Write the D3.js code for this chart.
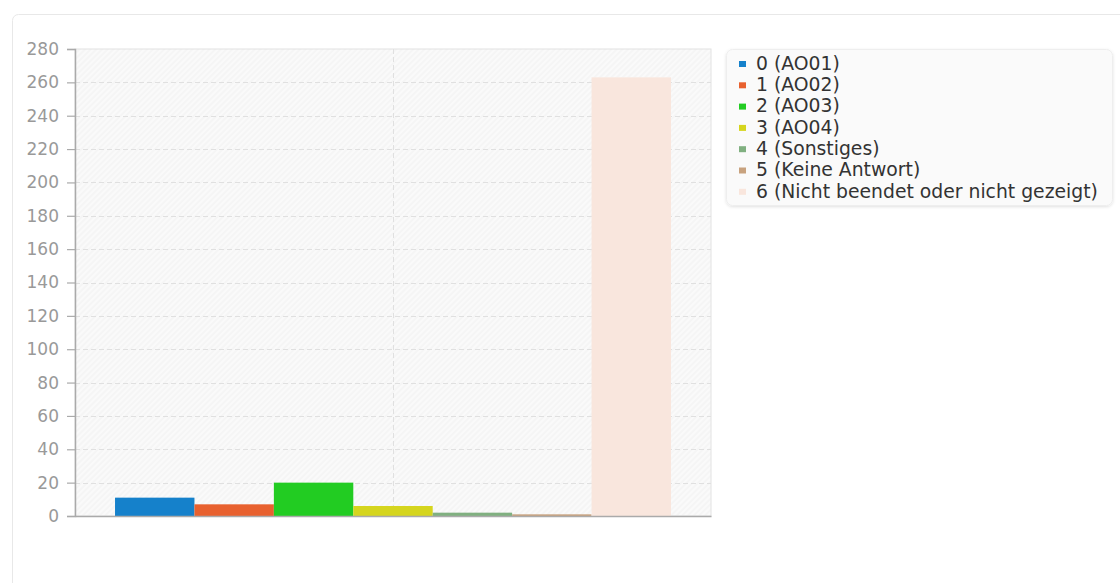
<!DOCTYPE html>
<html>
<head>
<meta charset="utf-8">
<script src="https://cdn.jsdelivr.net/npm/d3@7"></script>
<style>
  html, body { margin: 0; padding: 0; background: #ffffff; }
  svg { display: block; font-family: "DejaVu Sans", Verdana, sans-serif; }
</style>
</head>
<body>
<svg id="chart" width="1120" height="583"></svg>
<script>
// ---- data ----
const categories = ["Antworten"];
const seriesNames = [
  "0 (AO01)",
  "1 (AO02)",
  "2 (AO03)",
  "3 (AO04)",
  "4 (Sonstiges)",
  "5 (Keine Antwort)",
  "6 (Nicht beendet oder nicht gezeigt)"
];
const seriesValues = [11, 7, 20, 6, 2, 1, 263];
const seriesColors = ["#1581cb", "#e8612f", "#22cc22", "#d5d51e", "#80b080", "#c8a27e", "#f9e6dd"];
const yTicks = [0, 20, 40, 60, 80, 100, 120, 140, 160, 180, 200, 220, 240, 260, 280];

// ---- layout ----
const W = 1120, H = 583;
const plot = { left: 75, top: 49, right: 711, bottom: 516 };

const svg = d3.select("#chart");
const defs = svg.append("defs");

const pat = defs.append("pattern")
  .attr("id", "hatch")
  .attr("patternUnits", "userSpaceOnUse")
  .attr("width", 4).attr("height", 4)
  .attr("patternTransform", "rotate(45)");
pat.append("rect").attr("width", 4).attr("height", 4).attr("fill", "#f5f5f5");
pat.append("line").attr("x1", 1).attr("y1", 0).attr("x2", 1).attr("y2", 4)
  .attr("stroke", "#fcfcfc").attr("stroke-width", 1.6);

const shadow = defs.append("filter").attr("id", "shadow")
  .attr("x", "-5%").attr("y", "-10%").attr("width", "110%").attr("height", "125%");
shadow.append("feDropShadow").attr("dx", 0).attr("dy", 1).attr("stdDeviation", 1.5)
  .attr("flood-color", "#000").attr("flood-opacity", 0.12);

// card
svg.append("rect")
  .attr("x", 12.5).attr("y", 14.5)
  .attr("width", W).attr("height", H)
  .attr("rx", 6)
  .attr("fill", "#ffffff")
  .attr("stroke", "#e8e8e8");

// scales
const y = d3.scaleLinear().domain([0, 280]).range([plot.bottom, plot.top]);
const x0 = d3.scaleBand().domain(categories).range([plot.left, plot.right])
  .paddingInner(0).paddingOuter(0.072);
const x1 = d3.scaleBand().domain(seriesNames).range([0, x0.bandwidth()]).padding(0);

// plot background
svg.append("rect")
  .attr("x", plot.left).attr("y", plot.top)
  .attr("width", plot.right - plot.left).attr("height", plot.bottom - plot.top)
  .attr("fill", "url(#hatch)")
  .attr("stroke", "#e2e2e2");

// horizontal grid
svg.append("g").selectAll("line").data(yTicks.filter(d => d > 0 && d < 280)).join("line")
  .attr("x1", plot.left).attr("x2", plot.right)
  .attr("y1", d => Math.round(y(d)) + 0.5).attr("y2", d => Math.round(y(d)) + 0.5)
  .attr("stroke", "#e0e0e0").attr("stroke-dasharray", "5,3");

// vertical grid at category center
svg.append("g").selectAll("line").data(categories).join("line")
  .attr("x1", d => Math.round(x0(d) + x0.bandwidth() / 2) + 0.5)
  .attr("x2", d => Math.round(x0(d) + x0.bandwidth() / 2) + 0.5)
  .attr("y1", plot.top).attr("y2", plot.bottom)
  .attr("stroke", "#e0e0e0").attr("stroke-dasharray", "5,3");

// bars
const bars = svg.append("g");
categories.forEach(cat => {
  bars.selectAll("rect.b").data(seriesNames.map((s, i) => ({ s, v: seriesValues[i], c: seriesColors[i] })))
    .join("rect").attr("class", "b")
    .attr("x", d => x0(cat) + x1(d.s))
    .attr("width", x1.bandwidth())
    .attr("y", d => y(d.v))
    .attr("height", d => y(0) - y(d.v))
    .attr("fill", d => d.c);
});

// y axis
const yAxis = d3.axisLeft(y).tickValues(yTicks).tickSize(8).tickPadding(8);
const gy = svg.append("g").attr("transform", `translate(${plot.left},0)`).call(yAxis);
gy.select(".domain").attr("stroke", "#aaaaaa").attr("stroke-width", 1.5);
gy.selectAll(".tick line").attr("stroke", "#aaaaaa").attr("stroke-width", 1.2);
gy.selectAll(".tick text").attr("fill", "#999999").attr("font-size", 17)
  .attr("font-family", "'DejaVu Sans', sans-serif");

// x axis line
const xAxis = d3.axisBottom(x0).tickSize(0).tickFormat("");
const gx = svg.append("g").attr("transform", `translate(0,${plot.bottom})`).call(xAxis);
gx.select(".domain").attr("stroke", "#aaaaaa").attr("stroke-width", 1.5);

// legend
const lg = svg.append("g");
lg.append("rect")
  .attr("x", 726.5).attr("y", 49.5).attr("width", 386).attr("height", 156)
  .attr("rx", 6).attr("fill", "#fafafa").attr("stroke", "#eeeeee")
  .attr("filter", "url(#shadow)");
const items = lg.selectAll("g.item").data(seriesNames).join("g").attr("class", "item")
  .attr("transform", (d, i) => `translate(0,${63 + i * 21.3})`);
items.append("rect")
  .attr("x", 739).attr("y", -2).attr("width", 7).attr("height", 6)
  .attr("fill", (d, i) => seriesColors[i]);
items.append("text")
  .attr("x", 756).attr("y", 0).attr("dy", "0.36em")
  .attr("font-size", 18.8).attr("fill", "#333333")
  .text(d => d);
</script>
</body>
</html>
